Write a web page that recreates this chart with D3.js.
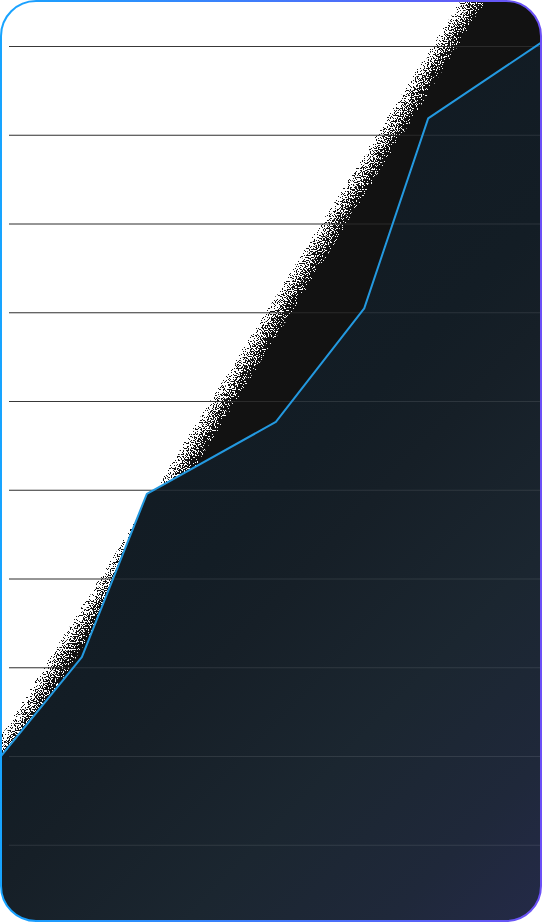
<!DOCTYPE html>
<html>
<head>
<meta charset="utf-8">
<script src="https://cdn.jsdelivr.net/npm/d3@7"></script>
<style>
  html, body { margin: 0; padding: 0; background: #fff; }
  svg { display: block; }
</style>
</head>
<body>
<svg id="chart" width="542" height="922"></svg>
<script>
// values (x in % of the span, y in grid units)
var gridValues = [1, 2, 3, 4, 5, 6, 7, 8, 9, 10];
var lineX = [0, 15.1, 27.1, 50.9, 67.2, 79.0, 100];
var lineV = [1.99, 3.12, 4.96, 5.77, 7.05, 9.19, 10.05];
// outer edge of the grainy band
var trendX = [0, 100];
var trendV = [2.18, 11.96];

var svg = d3.select("#chart");
var W = +svg.attr("width"), H = +svg.attr("height");

var x = d3.scaleLinear().domain([0, 100]).range([0, W]);
var y = d3.scaleLinear().domain([0, 10]).range([934, 46.5]);

var defs = svg.append("defs");

defs.append("clipPath").attr("id", "card")
  .append("rect").attr("x", 1).attr("y", 1).attr("width", W - 2).attr("height", H - 2).attr("rx", 35);

var border = defs.append("linearGradient").attr("id", "borderGrad")
  .attr("gradientUnits", "userSpaceOnUse").attr("x1", 0).attr("y1", 0).attr("x2", W).attr("y2", 0);
border.append("stop").attr("offset", 0).attr("stop-color", "#17a4ff");
border.append("stop").attr("offset", 1).attr("stop-color", "#6c50f6");

var fillGrad = defs.append("linearGradient").attr("id", "areaGrad")
  .attr("gradientUnits", "userSpaceOnUse").attr("x1", 0).attr("y1", 400).attr("x2", W).attr("y2", H);
[[0, "#111a22"], [0.35, "#131d25"], [0.45, "#161f27"], [0.66, "#1b2630"], [0.85, "#1f283a"], [1, "#242a48"]]
  .forEach(function(s) { fillGrad.append("stop").attr("offset", s[0]).attr("stop-color", s[1]); });

// ramp across the band edge, turned into grain by the filter
var p0 = [x(trendX[0]), y(trendV[0])], p1 = [x(trendX[1]), y(trendV[1])];
var dx = p1[0] - p0[0], dy = p1[1] - p0[1], len = Math.hypot(dx, dy);
var nx = -dy / len, ny = dx / len, pre = 2, depth = 22;
var band = defs.append("linearGradient").attr("id", "bandGrad")
  .attr("gradientUnits", "userSpaceOnUse")
  .attr("x1", p0[0] - nx * pre).attr("y1", p0[1] - ny * pre)
  .attr("x2", p0[0] + nx * depth).attr("y2", p0[1] + ny * depth);
[[0, 0], [pre / (pre + depth), 0.2], [1, 1]].forEach(function(s) {
  band.append("stop").attr("offset", s[0]).attr("stop-color", "#000").attr("stop-opacity", s[1]);
});

var f = defs.append("filter").attr("id", "grain")
  .attr("color-interpolation-filters", "sRGB")
  .attr("filterUnits", "userSpaceOnUse").attr("x", 0).attr("y", 0).attr("width", W).attr("height", H);
f.append("feTurbulence").attr("type", "fractalNoise").attr("baseFrequency", 0.85)
  .attr("numOctaves", 1).attr("seed", 7).attr("result", "n");
f.append("feColorMatrix").attr("in", "n").attr("type", "matrix")
  .attr("values", "0 0 0 0 0  0 0 0 0 0  0 0 0 0 0  3.5 0 0 0 -1.25").attr("result", "na0");
var ct = f.append("feComponentTransfer").attr("in", "na0").attr("result", "na");
ct.append("feFuncA").attr("type", "linear").attr("slope", 0.9).attr("intercept", 0.05);
f.append("feComposite").attr("in", "SourceGraphic").attr("in2", "na").attr("operator", "arithmetic")
  .attr("k1", 0).attr("k2", 40).attr("k3", -40).attr("k4", 0.5).attr("result", "th");
f.append("feColorMatrix").attr("in", "th").attr("type", "matrix")
  .attr("values", "0 0 0 0 0.07  0 0 0 0 0.07  0 0 0 0 0.07  0 0 0 1 0");

var g = svg.append("g").attr("clip-path", "url(#card)");
g.append("rect").attr("width", W).attr("height", H).attr("fill", "#fff");

g.append("g").selectAll("line").data(gridValues).join("line")
  .attr("x1", 9).attr("x2", W)
  .attr("y1", function(d) { return y(d); }).attr("y2", function(d) { return y(d); })
  .attr("stroke", "#222").attr("stroke-width", 1);

g.append("rect").attr("width", W).attr("height", H)
  .attr("fill", "url(#bandGrad)").attr("filter", "url(#grain)");

var pts = lineX.map(function(d, i) { return [d, lineV[i]]; });

g.append("path").datum(pts)
  .attr("d", d3.area().x(function(d) { return x(d[0]); }).y0(H + 10).y1(function(d) { return y(d[1]); }))
  .attr("fill", "url(#areaGrad)");

g.append("g").selectAll("line").data(gridValues).join("line")
  .attr("x1", 9).attr("x2", W)
  .attr("y1", function(d) { return y(d); }).attr("y2", function(d) { return y(d); })
  .attr("stroke", "#fff").attr("stroke-opacity", 0.1).attr("stroke-width", 1);

g.append("path").datum(pts)
  .attr("d", d3.line().x(function(d) { return x(d[0]); }).y(function(d) { return y(d[1]); }))
  .attr("fill", "none").attr("stroke", "#2399e0").attr("stroke-width", 2)
  .attr("stroke-linejoin", "round");

svg.append("rect").attr("x", 1).attr("y", 1).attr("width", W - 2).attr("height", H - 2).attr("rx", 35)
  .attr("fill", "none").attr("stroke", "url(#borderGrad)").attr("stroke-width", 2);
</script>
</body>
</html>
